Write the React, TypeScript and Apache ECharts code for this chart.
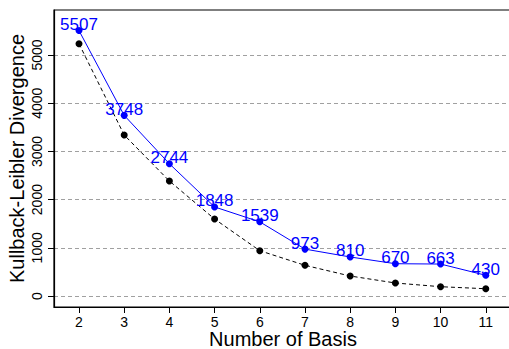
import React, { useEffect, useRef } from "react";
import * as echarts from "echarts";

const basis = [2, 3, 4, 5, 6, 7, 8, 9, 10, 11];
const blueValues = [5507, 3748, 2744, 1848, 1539, 973, 810, 670, 663, 430];
const blackValues = [5234, 3340, 2386, 1597, 940, 637, 415, 270, 193, 151];
const yTicks = [0, 1000, 2000, 3000, 4000, 5000];

const FONT = "'Liberation Sans', Arial, sans-serif";

export default function App() {
  const ref = useRef<HTMLDivElement>(null);
  useEffect(() => {
    if (!ref.current) return;
    const chart = echarts.init(ref.current, null, { renderer: "svg" });
    chart.setOption({
      animation: false,
      backgroundColor: "#ffffff",
      grid: {
        left: 54,
        top: 10,
        right: -3,
        bottom: 42,
        show: true,
        borderColor: "#000",
        borderWidth: 1.2,
        containLabel: false,
        outerBoundsMode: "none",
      },
      xAxis: {
        type: "value",
        min: 1.447,
        max: 11.58,
        name: "Number of Basis",
        nameLocation: "middle",
        nameGap: 22,
        nameMoveOverlap: false,
        nameTextStyle: { fontFamily: FONT, fontSize: 20, lineHeight: 20, color: "#000" },
        axisLine: { show: true, onZero: false, lineStyle: { color: "#000", width: 1.2 } },
        axisTick: { show: true, length: 6, lineStyle: { color: "#000" }, customValues: basis },
        axisLabel: {
          fontFamily: FONT,
          fontSize: 14,
          lineHeight: 14,
          color: "#000",
          margin: 8,
          customValues: basis,
          formatter: (v: number) => String(v),
        },
        splitLine: { show: false },
      },
      yAxis: {
        type: "value",
        min: -228,
        max: 5934,
        name: "Kullback-Leibler Divergence",
        nameLocation: "middle",
        nameGap: 27,
        nameMoveOverlap: false,
        nameTextStyle: { fontFamily: FONT, fontSize: 20, color: "#000" },
        axisLine: { show: true, onZero: false, lineStyle: { color: "#000", width: 1.2 } },
        axisTick: { show: true, length: 6, lineStyle: { color: "#000" }, customValues: yTicks },
        axisLabel: {
          fontFamily: FONT,
          fontSize: 14,
          color: "#000",
          rotate: 90,
          margin: 10,
          customValues: yTicks,
          formatter: (v: number) => String(v),
        },
        splitLine: {
          show: true,
          lineStyle: { color: "#a0a0a0", type: [4, 3], width: 1 },
        },
      },
      series: [
        {
          type: "line",
          data: basis.map((b, i) => [b, blackValues[i]]),
          symbol: "circle",
          symbolSize: 7,
          itemStyle: { color: "#000" },
          lineStyle: { color: "#000", width: 1, type: [4, 3] },
          z: 2,
        },
        {
          type: "line",
          data: basis.map((b, i) => [b, blueValues[i]]),
          symbol: "circle",
          symbolSize: 7,
          itemStyle: { color: "#0000ff" },
          lineStyle: { color: "#0000ff", width: 1 },
          label: {
            show: true,
            position: "top",
            distance: -6,
            color: "#0000ff",
            fontFamily: FONT,
            fontSize: 17,
            formatter: (p: any) => String(p.value[1]),
          },
          z: 3,
        },
      ],
    });
    return () => chart.dispose();
  }, []);
  return <div ref={ref} style={{ width: 509, height: 349, position: "absolute", left: 0, top: 0 }} />;
}
